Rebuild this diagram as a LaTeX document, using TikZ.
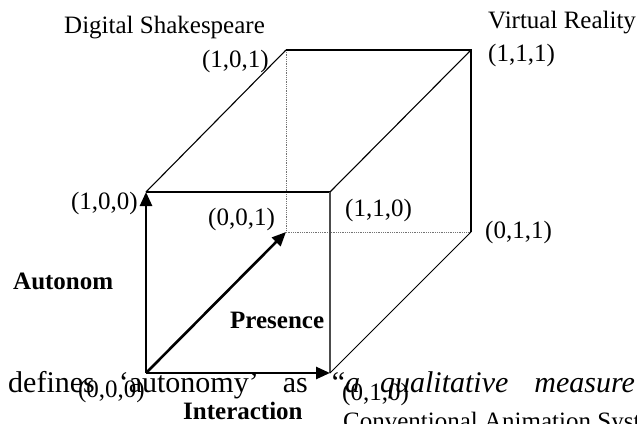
\documentclass[tikz,border=0pt]{standalone}
\usepackage{fontspec}
\setmainfont{Liberation Serif}
\usetikzlibrary{arrows.meta, positioning}

\begin{document}
\begin{tikzpicture}[
    x=1pt, y=-1pt,
    edge/.style={line width=1.1pt, black},
    hidden/.style={densely dotted, line width=0.8pt, black!55},
    axis/.style={line width=2.6pt, -{Triangle[length=14pt, width=12pt]}},
    lbl/.style={inner sep=0pt, anchor=base west, font=\fontsize{25}{30}\selectfont},
    axislbl/.style={lbl, font=\fontsize{25}{30}\selectfont\bfseries}
]
\useasboundingbox (0,0) rectangle (637,423);

% Cube corners (autonomy, interaction, presence)
\coordinate (c000) at (146,373);
\coordinate (c100) at (146,192);
\coordinate (c110) at (330,192);
\coordinate (c010) at (330,373);
\coordinate (c001) at (286,232);
\coordinate (c101) at (286,50);
\coordinate (c111) at (471,50);
\coordinate (c011) at (471,232);

% Hidden edges
\draw[hidden] (c101) -- (c001) -- (c011);

% Visible edges
\draw[edge] (c100) -- (c110);
\draw[edge, black!70] (c110) -- (c010);
\draw[edge] (c101) -- (c111) -- (c011);
\draw[edge] (c100) -- (c101);
\draw[edge] (c110) -- (c111);
\draw[edge, line width=0.9pt] (c010) -- (c011);

% Axes
\draw[axis] (c000) -- (c100);
\draw[axis] (c000) -- (c010);
\draw[axis] (c000) -- (c001);

% Corner labels
\node[lbl, anchor=base east] (l000) at (145,397) {(0,0,0)};
\node[lbl, anchor=base east] (l100) at (138,209) {(1,0,0)};
\node[lbl] (l001) at (208,225) {(0,0,1)};
\node[lbl] (l110) at (345,216) {(1,1,0)};
\node[lbl] (l011) at (485,238) {(0,1,1)};
\node[lbl] (l010) at (342,400) {(0,1,0)};
\node[lbl, anchor=base east] (l101) at (269,67) {(1,0,1)};
\node[lbl] (l111) at (488,61) {(1,1,1)};

% Named corners
\node[lbl] (shakes) at (64,33) {Digital Shakespeare};
\node[lbl] (vr) at (488,28) {Virtual Reality};

% Axis labels
\node[axislbl] (autonom) at (13,289) {Autonom};
\node[axislbl] (presence) at (230,328) {Presence};
\node[axislbl] (interact) at (183,419) {Interaction};

% Text from the page behind the figure
\begin{scope}
\clip (0,0) rectangle (637,423);
\node[lbl, font=\fontsize{30}{36}\selectfont] (para) at (8,392)
    {defines\hspace{24pt}`autonomy'\hspace{24pt}as\hspace{24pt}``\textit{a}\hspace{20pt}\textit{qualitative}\hspace{26pt}\textit{measure}};
\node[lbl] (conv) at (343,429) {Conventional Animation System};
\end{scope}

\end{tikzpicture}
\end{document}
